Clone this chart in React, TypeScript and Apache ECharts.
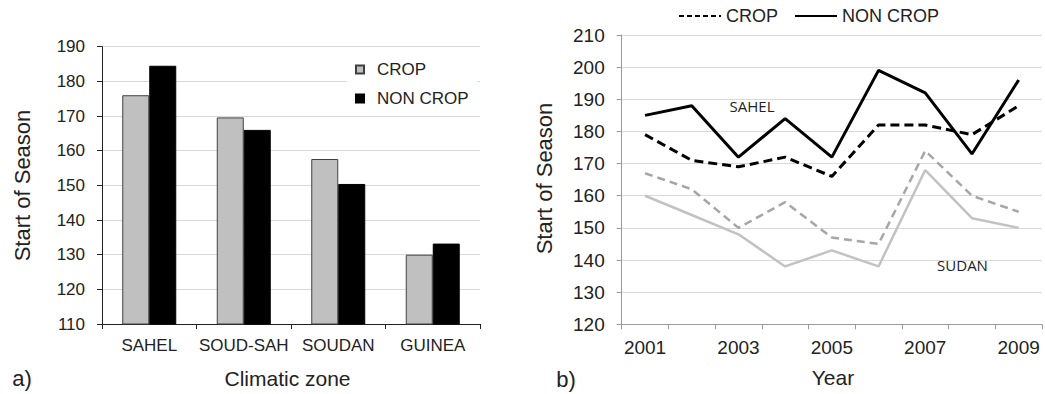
import React, { useEffect, useRef } from "react";
import * as echarts from "echarts";

const barCategories = ["SAHEL", "SOUD-SAH", "SOUDAN", "GUINEA"];
const barCrop = [176, 169.6, 157.6, 130];
const barNonCrop = [184.5, 166, 150.4, 133.2];

const years = ["2001", "2002", "2003", "2004", "2005", "2006", "2007", "2008", "2009"];
const sahelCrop = [179, 171, 169, 172, 166, 182, 182, 179, 188];
const sahelNonCrop = [185, 188, 172, 184, 172, 199, 192, 173, 196];
const sudanCrop = [167, 162, 150, 158, 147, 145, 174, 160, 155];
const sudanNonCrop = [160, 154, 148, 138, 143, 138, 168, 153, 150];

const FONT = "'Liberation Sans', Arial, sans-serif";
const FONT2 = "'Open Sans', 'Noto Sans', sans-serif";

export default function App() {
  const ref = useRef<HTMLDivElement>(null);
  useEffect(() => {
    if (!ref.current) return;
    const chart = echarts.init(ref.current, undefined, { renderer: "svg" });
    const gridLine = { show: true, lineStyle: { color: "#d9d9d9", width: 1 } };
    const hiddenSymbol = { color: "rgba(0,0,0,0)", borderColor: "rgba(0,0,0,0)", borderWidth: 0, opacity: 0 };
    const option: any = {
      animation: false,
      backgroundColor: "#fff",
      textStyle: { fontFamily: FONT },
      grid: [
        { left: 102, top: 46.7, width: 378, height: 277.3 },
        { left: 621.7, top: 35, width: 420.3, height: 289.3 },
      ],
      legend: [
        {
          orient: "vertical",
          left: 347,
          top: 56,
          padding: [5, 9, 5, 8],
          backgroundColor: "#fff",
          icon: "rect",
          itemWidth: 8,
          itemHeight: 8,
          itemGap: 12,
          textStyle: { fontSize: 17, color: "#222", fontFamily: FONT, padding: [0, 0, 0, 8] },
          data: ["CROP", "NON CROP"],
        },
        {
          orient: "horizontal",
          left: 678,
          top: 7,
          padding: 0,
          itemWidth: 42,
          itemHeight: 14,
          itemGap: 16,
          textStyle: { fontSize: 18, color: "#222", fontFamily: FONT },
          formatter: (n: string) => n.replace(" (Sahel)", ""),
          data: [
            { name: "CROP (Sahel)", lineStyle: { width: 2, type: [5, 3] }, itemStyle: hiddenSymbol },
            { name: "NON CROP (Sahel)", lineStyle: { width: 2, type: "solid" }, itemStyle: hiddenSymbol },
          ],
        },
      ],
      xAxis: [
        {
          type: "category",
          gridIndex: 0,
          data: barCategories,
          boundaryGap: true,
          axisLine: { show: true, lineStyle: { color: "#222", width: 1 } },
          axisTick: { show: true, length: 5, lineStyle: { color: "#222" } },
          axisLabel: { interval: 0, fontSize: 17, color: "#222", margin: 13, fontFamily: FONT },
          splitLine: { show: false },
        },
        {
          type: "category",
          gridIndex: 1,
          data: years,
          boundaryGap: true,
          axisLine: { show: true, lineStyle: { color: "#9a9a9a", width: 1 } },
          axisTick: { show: true, interval: 0, length: 5, lineStyle: { color: "#9a9a9a" } },
          axisLabel: { interval: 1, fontSize: 19, color: "#222", margin: 14, fontFamily: FONT },
          splitLine: { show: false },
        },
      ],
      yAxis: [
        {
          type: "value",
          gridIndex: 0,
          min: 110,
          max: 190,
          interval: 10,
          axisLine: { show: true, lineStyle: { color: "#222", width: 1 } },
          axisTick: { show: true, length: 5, lineStyle: { color: "#222" } },
          axisLabel: { fontSize: 17, color: "#222", margin: 17, fontFamily: FONT },
          splitLine: gridLine,
        },
        {
          type: "value",
          gridIndex: 1,
          min: 120,
          max: 210,
          interval: 10,
          axisLine: { show: true, lineStyle: { color: "#9a9a9a", width: 1 } },
          axisTick: { show: true, length: 5, lineStyle: { color: "#9a9a9a" } },
          axisLabel: { fontSize: 19, color: "#222", margin: 17, fontFamily: FONT },
          splitLine: gridLine,
        },
      ],
      series: [
        {
          name: "CROP",
          type: "bar",
          xAxisIndex: 0,
          yAxisIndex: 0,
          data: barCrop,
          barWidth: 27,
          barGap: "0%",
          itemStyle: { color: "#c0c0c0", borderColor: "#404040", borderWidth: 1 },
        },
        {
          name: "NON CROP",
          type: "bar",
          xAxisIndex: 0,
          yAxisIndex: 0,
          data: barNonCrop,
          barWidth: 27,
          barGap: "0%",
          itemStyle: { color: "#000", borderColor: "#000", borderWidth: 1 },
        },
        {
          name: "SUDAN NON CROP",
          type: "line",
          xAxisIndex: 1,
          yAxisIndex: 1,
          data: sudanNonCrop,
          symbol: "none",
          lineStyle: { color: "#c2c2c2", width: 2.5, type: "solid" },
          itemStyle: { color: "#c2c2c2" },
        },
        {
          name: "SUDAN CROP",
          type: "line",
          xAxisIndex: 1,
          yAxisIndex: 1,
          data: sudanCrop,
          symbol: "none",
          lineStyle: { color: "#a6a6a6", width: 2.5, type: [8, 5] },
          itemStyle: { color: "#a6a6a6" },
        },
        {
          name: "CROP (Sahel)",
          type: "line",
          xAxisIndex: 1,
          yAxisIndex: 1,
          data: sahelCrop,
          symbol: "none",
          lineStyle: { color: "#000", width: 3, type: [9, 5] },
          itemStyle: { color: "#000" },
        },
        {
          name: "NON CROP (Sahel)",
          type: "line",
          xAxisIndex: 1,
          yAxisIndex: 1,
          data: sahelNonCrop,
          symbol: "none",
          lineStyle: { color: "#000", width: 3, type: "solid" },
          itemStyle: { color: "#000" },
        },
      ],
      graphic: [
        {
          type: "text",
          x: 22.5,
          y: 185.5,
          rotation: Math.PI / 2,
          style: { text: "Start of Season", font: `22px ${FONT}`, fill: "#222", textAlign: "center", textVerticalAlign: "middle" },
        },
        {
          type: "text",
          x: 287.5,
          y: 378,
          style: { text: "Climatic zone", font: `21px ${FONT}`, fill: "#222", textAlign: "center", textVerticalAlign: "middle" },
        },
        {
          type: "text",
          x: 22,
          y: 378,
          style: { text: "a)", font: `22px ${FONT}`, fill: "#222", textAlign: "center", textVerticalAlign: "middle" },
        },
        {
          type: "text",
          x: 544,
          y: 178.5,
          rotation: Math.PI / 2,
          style: { text: "Start of Season", font: `22px ${FONT}`, fill: "#222", textAlign: "center", textVerticalAlign: "middle" },
        },
        {
          type: "text",
          x: 833,
          y: 377,
          style: { text: "Year", font: `21px ${FONT}`, fill: "#222", textAlign: "center", textVerticalAlign: "middle" },
        },
        {
          type: "text",
          x: 566,
          y: 379,
          style: { text: "b)", font: `22px ${FONT}`, fill: "#222", textAlign: "center", textVerticalAlign: "middle" },
        },
        {
          type: "text",
          x: 752,
          y: 106,
          style: { text: "SAHEL", font: `15px ${FONT2}`, fill: "#222", textAlign: "center", textVerticalAlign: "middle" },
        },
        {
          type: "text",
          x: 962.5,
          y: 265,
          style: { text: "SUDAN", font: `15px ${FONT2}`, fill: "#222", textAlign: "center", textVerticalAlign: "middle" },
        },
      ],
    };
    chart.setOption(option);
    return () => chart.dispose();
  }, []);
  return (
    <div
      ref={ref}
      style={{ position: "absolute", left: 0, top: 0, width: 1045, height: 394 }}
    />
  );
}
